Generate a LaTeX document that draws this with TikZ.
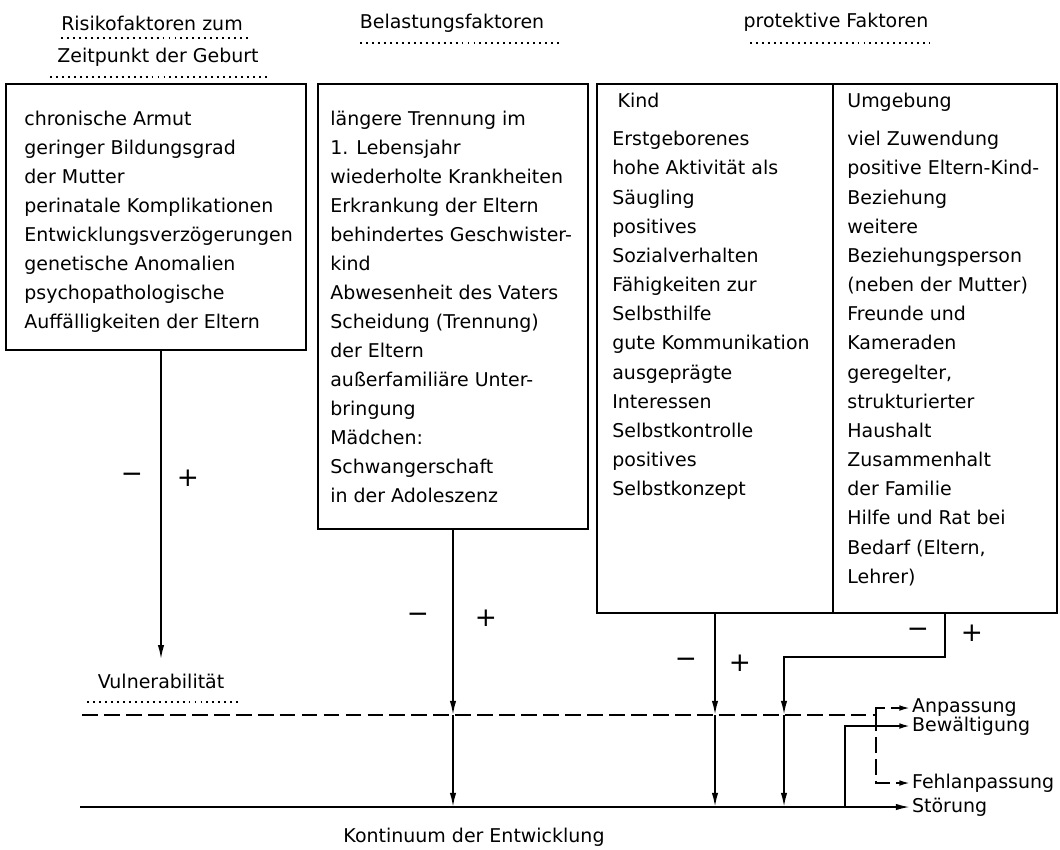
\documentclass[tikz,border=0pt]{standalone}
\usepackage{fontspec}
\setmainfont{DejaVu Sans}
\usepackage{tikz}
\usetikzlibrary{
  arrows.meta,
  positioning,
  fit,
  calc
}

\begin{document}
\begin{tikzpicture}[
  x=0.02cm, y=-0.02cm,
  box/.style={draw, line width=1.5pt, inner sep=0pt},
  list/.style={anchor=north west, inner sep=0pt, align=left, font=\fontsize{10.8}{16.5}\selectfont},
  head/.style={font=\fontsize{10.8}{13}\selectfont, inner sep=1pt},
  lbl/.style={anchor=west, font=\fontsize{10.8}{13}\selectfont, inner sep=1pt},
  sign/.style={font=\fontsize{15}{15}\selectfont, inner sep=1pt},
  dotline/.style={line width=1.3pt, dash pattern=on 1.1pt off 2.3pt},
  dashline/.style={line width=1pt, dash pattern=on 9pt off 3.5pt},
  arr/.style={-{Latex[length=8pt,width=3.6pt]}, line width=1pt},
  sarr/.style={-{Latex[length=6pt,width=3.2pt]}, line width=1pt},
]

\useasboundingbox (0,0) rectangle (1060,849);

% Kopfzeilen
\node[head] (riskhead) at (152,23) {Risikofaktoren zum};
\node[head] (riskhead2) at (158,57) {Zeitpunkt der Geburt};
\node[head] (loadhead) at (452,23) {Belastungsfaktoren};
\node[head] (prothead) at (836,22) {protektive Faktoren};
\draw[dotline] (61,38) -- (250,38);
\draw[dotline] (50,77) -- (271,77);
\draw[dotline] (360,43) -- (561,43);
\draw[dotline] (750,43) -- (930,43);

% Kaesten
\node[box, fit={(6,84) (306,350)}] (risk) {};
\node[box, fit={(318,84) (588,529)}] (load) {};
\node[box, fit={(597,84) (833,613)}] (kind) {};
\node[box, fit={(833,84) (1057,613)}] (env) {};

\node[list] (risktxt) at (24,111) {chronische Armut\\geringer Bildungsgrad\\der Mutter\\perinatale Komplikationen\\Entwicklungsverzögerungen\\genetische Anomalien\\psychopathologische\\Auffälligkeiten der Eltern};
\node[list] (loadtxt) at (330,111) {längere Trennung im\\1. Lebensjahr\\wiederholte Krankheiten\\Erkrankung der Eltern\\behindertes Geschwister-\\kind\\Abwesenheit des Vaters\\Scheidung (Trennung)\\der Eltern\\außerfamiliäre Unter-\\bringung\\Mädchen:\\Schwangerschaft\\in der Adoleszenz};
\node[list, font=\fontsize{10.8}{16.6}\selectfont] (kindtxt) at (612,93) {\hspace*{3pt}Kind\\[5pt]Erstgeborenes\\hohe Aktivität als\\Säugling\\positives\\Sozialverhalten\\Fähigkeiten zur\\Selbsthilfe\\gute Kommunikation\\ausgeprägte\\Interessen\\Selbstkontrolle\\positives\\Selbstkonzept};
\node[list, font=\fontsize{10.8}{16.6}\selectfont] (envtxt) at (847,93) {Umgebung\\[5pt]viel Zuwendung\\positive Eltern-Kind-\\Beziehung\\weitere\\Beziehungsperson\\(neben der Mutter)\\Freunde und\\Kameraden\\geregelter,\\strukturierter\\Haushalt\\Zusammenhalt\\der Familie\\Hilfe und Rat bei\\Bedarf (Eltern,\\Lehrer)};

% Entwicklungsachsen
\node[head] (vuln) at (161,681) {Vulnerabilität};
\draw[dotline] (87,702) -- (240,702);
\node[head] (kont) at (474,837) {Kontinuum der Entwicklung};

\node[lbl] (anp) at (910,708) {Anpassung};
\node[lbl] (bew) at (910,726) {Bewältigung};
\node[lbl] (fehl) at (910,783) {Fehlanpassung};
\node[lbl] (stoer) at (910,807) {Störung};

\coordinate (dashend) at (876,715);
\draw[dashline] (82,715) -- (dashend);
\draw[sarr, dashline] (dashend) -- (876,708) -- (anp.west);
\draw[sarr, dashline] (dashend) -- (876,783) -- (fehl.west);
\draw[arr] (80,807) -- (stoer.west);
\draw[sarr] (845,807) |- (bew.west);

% Pfeile aus den Kaesten
\draw[arr, shorten >=7pt] (risk.south -| vuln.north) -- (vuln.north);
\draw[arr] (load.south) -- (load.south |- dashend);
\draw[arr] (load.south |- dashend) -- (load.south |- stoer.west);
\draw[arr] (kind.south) -- (kind.south |- dashend);
\draw[arr] (kind.south |- dashend) -- (kind.south |- stoer.west);
\draw[arr] (env.south) |- (784,657) -- (784,715);
\draw[arr] (784,715) -- (784,807);

\node[sign] (riskm) at (132,478) {−};
\node[sign] (riskp) at (188,478) {+};
\node[sign] (loadm) at (418,618) {−};
\node[sign] (loadp) at (486,618) {+};
\node[sign] (kindm) at (686,663) {−};
\node[sign] (kindp) at (740,663) {+};
\node[sign] (envm) at (918,633) {−};
\node[sign] (envp) at (972,633) {+};

\end{tikzpicture}
\end{document}
